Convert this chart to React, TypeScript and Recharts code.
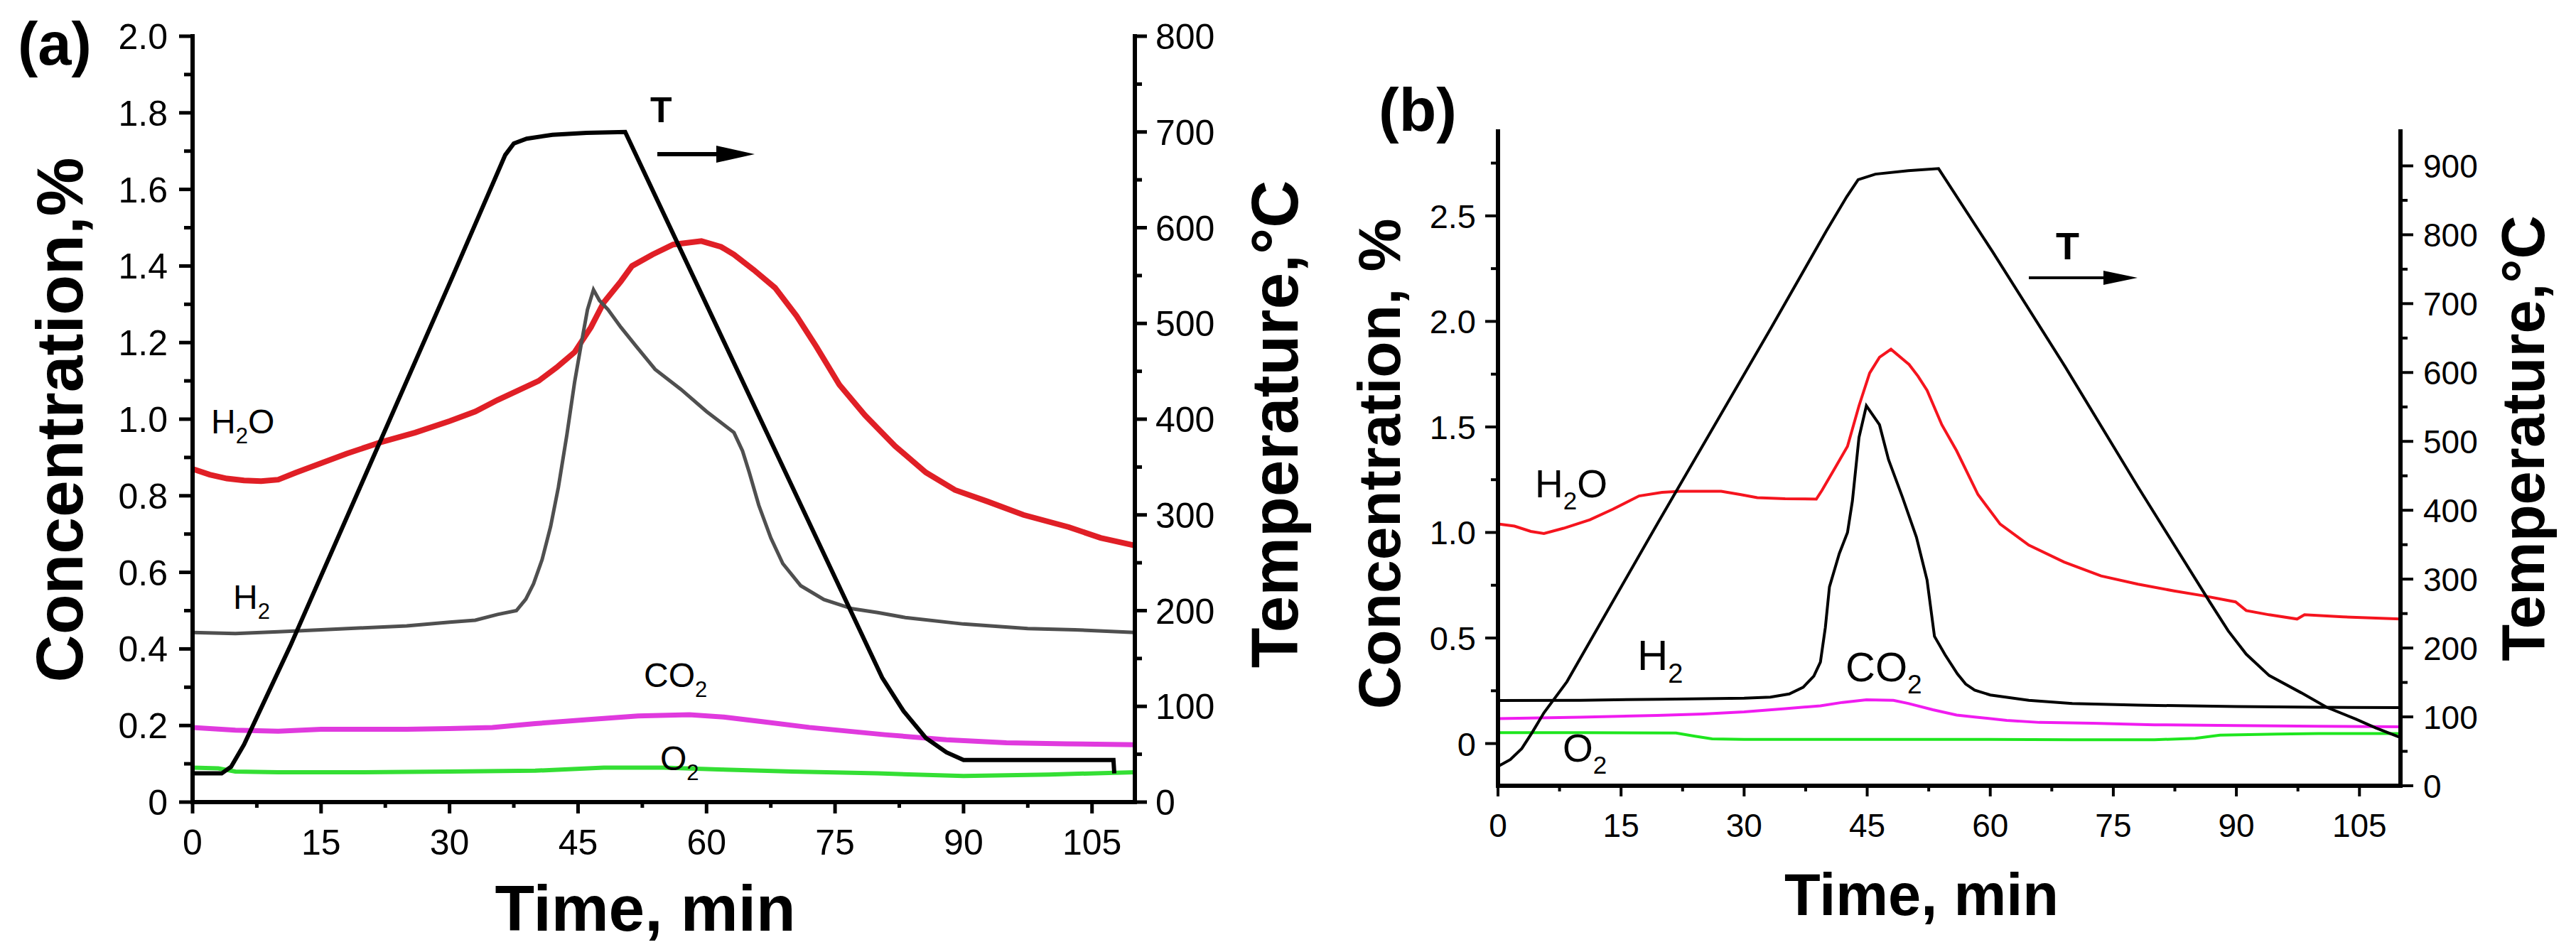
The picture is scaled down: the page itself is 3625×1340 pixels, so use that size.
import React from 'react';
import { LineChart, Line, XAxis, YAxis } from 'recharts';

const FONT = '"Liberation Sans", Arial, Helvetica, sans-serif';

// ---------- Panel (a) data ----------
const aH2O_t = [0, 2, 4, 6, 8, 10, 12, 15, 18, 22, 26, 30, 33, 35.6, 38, 40.4, 42.5, 44.6, 46.5, 48, 50, 51.3, 53.7, 56.1, 59.4, 61.7, 63.2, 65.5, 68, 70.5, 72.8, 75.5, 78.5, 82, 85.6, 89, 92.8, 97, 102.3, 106, 110];
const aH2O_v = [0.87, 0.855, 0.845, 0.84, 0.838, 0.842, 0.86, 0.885, 0.91, 0.94, 0.965, 0.995, 1.02, 1.05, 1.075, 1.1, 1.135, 1.175, 1.24, 1.305, 1.36, 1.4, 1.43, 1.456, 1.465, 1.45, 1.43, 1.39, 1.343, 1.27, 1.19, 1.09, 1.01, 0.93, 0.861, 0.815, 0.785, 0.75, 0.718, 0.69, 0.67];

const aH2_t = [0, 5, 10, 15, 20, 25, 30, 33, 35.6, 37.8, 38.9, 39.8, 40.8, 41.8, 42.7, 43.7, 44.6, 45.4, 46.1, 46.8, 47.5, 48.5, 50, 51.8, 54, 57, 60, 63.2, 64.2, 65, 66.1, 67.5, 68.9, 71, 73.7, 77, 80, 83.2, 90, 97.5, 103, 110];
const aH2_v = [0.443, 0.44, 0.445, 0.45, 0.455, 0.46, 0.47, 0.475, 0.49, 0.5, 0.53, 0.57, 0.633, 0.72, 0.822, 0.96, 1.097, 1.2, 1.286, 1.338, 1.31, 1.286, 1.24, 1.19, 1.13, 1.078, 1.02, 0.965, 0.917, 0.86, 0.775, 0.69, 0.623, 0.565, 0.529, 0.505, 0.495, 0.482, 0.465, 0.453, 0.45, 0.443];

const aCO2_t = [0, 5, 10, 15, 20, 25, 30, 35, 40, 46, 52, 58, 62, 66.5, 72, 80.8, 88, 95, 102, 110];
const aCO2_v = [0.195, 0.188, 0.185, 0.19, 0.19, 0.19, 0.192, 0.195, 0.205, 0.215, 0.225, 0.228, 0.222, 0.21, 0.195, 0.176, 0.163, 0.155, 0.152, 0.15];

const aO2_t = [0, 3, 5, 10, 20, 30, 40, 48, 55, 62, 70, 80, 90, 100, 110];
const aO2_v = [0.09, 0.088, 0.08, 0.078, 0.078, 0.08, 0.082, 0.09, 0.09, 0.085, 0.08, 0.075, 0.068, 0.072, 0.078];

const aT_t = [0, 3.4, 4.5, 6, 11.4, 20, 30.4, 36.5, 37.5, 39, 42, 46, 50.5, 80.5, 83, 85.6, 88, 90, 107.5, 107.6];
const aT_v = [30, 30, 37, 60, 163, 338, 550, 676, 688, 693, 697, 699, 700, 130, 95, 67, 52, 44, 44, 30];

// ---------- Panel (b) data ----------
const bH2O_t = [0, 2, 4, 5.6, 8, 11.2, 14, 17.2, 20, 22.2, 27.2, 29.5, 31.6, 35, 38.8, 39.5, 41, 42.6, 44, 45.3, 46.5, 47.9, 50.1, 51.2, 52.3, 54.1, 55.9, 58.5, 61.2, 64.7, 69, 73.5, 78, 82.4, 86, 89.9, 91.2, 94, 97.4, 98.3, 103, 110];
const bH2O_v = [1.04, 1.03, 1.005, 0.995, 1.02, 1.06, 1.11, 1.173, 1.19, 1.195, 1.195, 1.18, 1.165, 1.16, 1.158, 1.2, 1.3, 1.408, 1.6, 1.755, 1.83, 1.868, 1.796, 1.74, 1.673, 1.51, 1.387, 1.18, 1.04, 0.94, 0.86, 0.794, 0.755, 0.723, 0.7, 0.671, 0.63, 0.61, 0.59, 0.61, 0.6, 0.59];

const bH2_t = [0, 10, 20, 30, 33.2, 35.5, 37.2, 38.5, 39.3, 39.9, 40.4, 41.6, 42.6, 43.2, 44, 44.9, 46.5, 47.6, 49.3, 51, 52.3, 53.2, 54.5, 56, 57, 58.1, 60, 64.7, 70, 78, 90, 100, 110];
const bH2_v = [0.204, 0.205, 0.21, 0.215, 0.22, 0.235, 0.267, 0.32, 0.386, 0.55, 0.742, 0.9, 1.0, 1.15, 1.45, 1.6, 1.51, 1.345, 1.167, 0.978, 0.774, 0.508, 0.42, 0.33, 0.282, 0.253, 0.23, 0.205, 0.19, 0.182, 0.175, 0.172, 0.17];

const bCO2_t = [0, 10, 19.4, 25, 30, 35, 39.3, 42, 44.9, 48.2, 50, 53, 55.9, 58.1, 62, 66, 72.5, 80, 90, 100, 110];
const bCO2_v = [0.118, 0.125, 0.133, 0.14, 0.15, 0.165, 0.179, 0.195, 0.207, 0.205, 0.19, 0.16, 0.135, 0.126, 0.11, 0.1, 0.096, 0.089, 0.085, 0.082, 0.079];

const bO2_t = [0, 10, 21.7, 24, 26.1, 30, 40, 50, 60, 70, 80, 85, 88, 95, 100, 110];
const bO2_v = [0.052, 0.052, 0.05, 0.035, 0.022, 0.02, 0.02, 0.02, 0.02, 0.018, 0.018, 0.025, 0.04, 0.045, 0.047, 0.047];

const bT_t = [0, 1.5, 2.9, 4.2, 5.6, 8.4, 19.5, 33.3, 40, 42.5, 43.9, 46, 50, 53.7, 60.3, 69.1, 78, 86.8, 89, 91.2, 94, 97.9, 101, 104.5, 107, 110];
const bT_v = [28, 38, 54, 78, 106, 151, 382, 665, 805, 855, 880, 888, 893, 896, 775, 609, 434, 266, 225, 191, 160, 135, 114, 97, 84, 70];

// ---------- Ticks ----------
const timeTicks = [0, 7.5, 15, 22.5, 30, 37.5, 45, 52.5, 60, 67.5, 75, 82.5, 90, 97.5, 105];
const timeMajors = [0, 15, 30, 45, 60, 75, 90, 105];
const aConcTicks = [0, 0.1, 0.2, 0.3, 0.4, 0.5, 0.6, 0.7, 0.8, 0.9, 1.0, 1.1, 1.2, 1.3, 1.4, 1.5, 1.6, 1.7, 1.8, 1.9, 2.0];
const aConcMajors = [0, 0.2, 0.4, 0.6, 0.8, 1.0, 1.2, 1.4, 1.6, 1.8, 2.0];
const aTempTicks = [0, 50, 100, 150, 200, 250, 300, 350, 400, 450, 500, 550, 600, 650, 700, 750, 800];
const aTempMajors = [0, 100, 200, 300, 400, 500, 600, 700, 800];
const bConcTicks = [0, 0.25, 0.5, 0.75, 1.0, 1.25, 1.5, 1.75, 2.0, 2.25, 2.5, 2.75];
const bConcMajors = [0, 0.5, 1.0, 1.5, 2.0, 2.5];
const bTempTicks = [0, 50, 100, 150, 200, 250, 300, 350, 400, 450, 500, 550, 600, 650, 700, 750, 800, 850, 900];
const bTempMajors = [0, 100, 200, 300, 400, 500, 600, 700, 800, 900];

const zip = (ts: number[], vs: number[]) => ts.map((t, i) => ({ t, v: vs[i] }));

const fmtConc = (v: number) => (Math.abs(v) < 1e-9 ? '0' : v.toFixed(1));
const fmtInt = (v: number) => String(Math.round(v));

type TickOpts = {
  side: 'left' | 'right' | 'bottom';
  majors: number[];
  majorLen: number;
  minorLen: number;
  gap: number;
  fontSize: number;
  sw: number;
  fmt: (v: number) => string;
};

const makeTick = (o: TickOpts) => (props: any) => {
  const { x, y, payload } = props;
  const v = Number(payload.value);
  const major = o.majors.some((m) => Math.abs(m - v) < 1e-6);
  const len = major ? o.majorLen : o.minorLen;
  const txt = { fontFamily: FONT, fontSize: o.fontSize, fill: '#000' } as any;
  if (o.side === 'left') {
    return (
      <g>
        <line x1={x} y1={y} x2={x - len} y2={y} stroke="#000" strokeWidth={o.sw} />
        {major && (
          <text x={x - o.majorLen - o.gap} y={y} dy="0.36em" textAnchor="end" {...txt}>
            {o.fmt(v)}
          </text>
        )}
      </g>
    );
  }
  if (o.side === 'right') {
    return (
      <g>
        <line x1={x} y1={y} x2={x + len} y2={y} stroke="#000" strokeWidth={o.sw} />
        {major && (
          <text x={x + o.majorLen + o.gap} y={y} dy="0.36em" textAnchor="start" {...txt}>
            {o.fmt(v)}
          </text>
        )}
      </g>
    );
  }
  return (
    <g>
      <line x1={x} y1={y} x2={x} y2={y + len} stroke="#000" strokeWidth={o.sw} />
      {major && (
        <text x={x} y={y + o.majorLen + o.gap} dy="0.72em" textAnchor="middle" {...txt}>
          {o.fmt(v)}
        </text>
      )}
    </g>
  );
};

const tickA_left = makeTick({ side: 'left', majors: aConcMajors, majorLen: 19, minorLen: 12, gap: 16, fontSize: 50, sw: 5, fmt: fmtConc });
const tickA_right = makeTick({ side: 'right', majors: aTempMajors, majorLen: 17, minorLen: 10, gap: 12, fontSize: 50, sw: 5, fmt: fmtInt });
const tickA_bottom = makeTick({ side: 'bottom', majors: timeMajors, majorLen: 16, minorLen: 8, gap: 22, fontSize: 50, sw: 5, fmt: fmtInt });
const tickB_left = makeTick({ side: 'left', majors: bConcMajors, majorLen: 18, minorLen: 10, gap: 13, fontSize: 47, sw: 4, fmt: fmtConc });
const tickB_right = makeTick({ side: 'right', majors: bTempMajors, majorLen: 18, minorLen: 10, gap: 14, fontSize: 46, sw: 4, fmt: fmtInt });
const tickB_bottom = makeTick({ side: 'bottom', majors: timeMajors, majorLen: 15, minorLen: 8, gap: 24, fontSize: 46, sw: 4, fmt: fmtInt });

const axisLineStyle = { stroke: '#000', strokeWidth: 6, strokeLinecap: 'square' } as any;

const Sub = ({ x, y, size, parts }: { x: number; y: number; size: number; parts: Array<[string, boolean]> }) => {
  const shift = Math.round(size * 0.3);
  let cur = 0;
  return (
    <text x={x} y={y} fontFamily={FONT} fontSize={size} fill="#000">
      {parts.map(([s, sub], i) => {
        const dy = sub ? shift - cur : -cur;
        cur = sub ? shift : 0;
        return (
          <tspan key={i} dy={dy} fontSize={sub ? Math.round(size * 0.64) : size}>
            {s}
          </tspan>
        );
      })}
    </text>
  );
};

export default function App() {
  return (
    <div style={{ position: 'absolute', left: 0, top: 0, width: 3625, height: 1340, background: '#fff', overflow: 'hidden' }}>
      {/* Panel (a) */}
      <div style={{ position: 'absolute', left: 0, top: 0 }}>
        <LineChart width={1747} height={1340} margin={{ top: 51, right: 0, bottom: 61, left: 0 }}>
          <XAxis xAxisId="x" dataKey="t" type="number" domain={[0, 110]} ticks={timeTicks} interval={0} tickSize={0} tickMargin={0} tickLine={false} axisLine={axisLineStyle} tick={tickA_bottom} height={150} allowDataOverflow />
          <YAxis yAxisId="c" orientation="left" type="number" domain={[0, 2]} ticks={aConcTicks} interval={0} tickSize={0} tickMargin={0} tickLine={false} axisLine={axisLineStyle} tick={tickA_left} width={271} allowDataOverflow />
          <YAxis yAxisId="T" orientation="right" type="number" domain={[0, 800]} ticks={aTempTicks} interval={0} tickSize={0} tickMargin={0} tickLine={false} axisLine={axisLineStyle} tick={tickA_right} width={150} allowDataOverflow />
          <Line xAxisId="x" yAxisId="c" data={zip(aH2O_t, aH2O_v)} dataKey="v" type="linear" stroke="#e01f26" strokeWidth={8} dot={false} isAnimationActive={false} />
          <Line xAxisId="x" yAxisId="c" data={zip(aH2_t, aH2_v)} dataKey="v" type="linear" stroke="#4f4f4f" strokeWidth={5} dot={false} isAnimationActive={false} />
          <Line xAxisId="x" yAxisId="c" data={zip(aCO2_t, aCO2_v)} dataKey="v" type="linear" stroke="#e03ade" strokeWidth={7} dot={false} isAnimationActive={false} />
          <Line xAxisId="x" yAxisId="c" data={zip(aO2_t, aO2_v)} dataKey="v" type="linear" stroke="#34df34" strokeWidth={6} dot={false} isAnimationActive={false} />
          <Line xAxisId="x" yAxisId="T" data={zip(aT_t, aT_v)} dataKey="v" type="linear" stroke="#000" strokeWidth={6} dot={false} isAnimationActive={false} />
        </LineChart>
      </div>

      {/* Panel (b) */}
      <div style={{ position: 'absolute', left: 1900, top: 0 }}>
        <LineChart width={1628} height={1340} margin={{ top: 185, right: 0, bottom: 84, left: 0 }}>
          <XAxis xAxisId="x" dataKey="t" type="number" domain={[0, 110]} ticks={timeTicks} interval={0} tickSize={0} tickMargin={0} tickLine={false} axisLine={axisLineStyle} tick={tickB_bottom} height={150} allowDataOverflow />
          <YAxis yAxisId="c" orientation="left" type="number" domain={[-0.2, 2.9]} ticks={bConcTicks} interval={0} tickSize={0} tickMargin={0} tickLine={false} axisLine={axisLineStyle} tick={tickB_left} width={208} allowDataOverflow />
          <YAxis yAxisId="T" orientation="right" type="number" domain={[0, 950]} ticks={bTempTicks} interval={0} tickSize={0} tickMargin={0} tickLine={false} axisLine={axisLineStyle} tick={tickB_right} width={150} allowDataOverflow />
          <Line xAxisId="x" yAxisId="c" data={zip(bH2O_t, bH2O_v)} dataKey="v" type="linear" stroke="#f5141e" strokeWidth={4} dot={false} isAnimationActive={false} />
          <Line xAxisId="x" yAxisId="c" data={zip(bH2_t, bH2_v)} dataKey="v" type="linear" stroke="#000" strokeWidth={4} dot={false} isAnimationActive={false} />
          <Line xAxisId="x" yAxisId="c" data={zip(bCO2_t, bCO2_v)} dataKey="v" type="linear" stroke="#f01cf0" strokeWidth={4} dot={false} isAnimationActive={false} />
          <Line xAxisId="x" yAxisId="c" data={zip(bO2_t, bO2_v)} dataKey="v" type="linear" stroke="#1ee61e" strokeWidth={4} dot={false} isAnimationActive={false} />
          <Line xAxisId="x" yAxisId="T" data={zip(bT_t, bT_v)} dataKey="v" type="linear" stroke="#000" strokeWidth={4} dot={false} isAnimationActive={false} />
        </LineChart>
      </div>

      {/* Titles and annotations */}
      <svg width={3625} height={1340} style={{ position: 'absolute', left: 0, top: 0, pointerEvents: 'none' }}>
        <g fontFamily={FONT} fontWeight={700} fill="#000">
          <text x={25} y={91} fontSize={85}>(a)</text>
          <text x={1940} y={184} fontSize={86}>(b)</text>
          <text transform="translate(116,591) rotate(-90)" textAnchor="middle" fontSize={93}>Concentration,%</text>
          <text transform="translate(1826,597) rotate(-90)" textAnchor="middle" fontSize={93}>Temperature,°C</text>
          <text x={908} y={1310} textAnchor="middle" fontSize={91}>Time, min</text>
          <text transform="translate(1970,653) rotate(-90)" textAnchor="middle" fontSize={84}>Concentration, %</text>
          <text transform="translate(3580,617) rotate(-90)" textAnchor="middle" fontSize={85}>Temperature,°C</text>
          <text x={2704} y={1288} textAnchor="middle" fontSize={83}>Time, min</text>
          <text x={915} y={172} fontSize={50}>T</text>
          <text x={2893} y={365} fontSize={54}>T</text>
        </g>
        <line x1={925} y1={217} x2={1015} y2={217} stroke="#000" strokeWidth={6} />
        <polygon points="1008,205 1062,217 1008,229" fill="#000" />
        <line x1={2855} y1={391} x2={2965} y2={391} stroke="#000" strokeWidth={4} />
        <polygon points="2960,381 3008,391 2960,401" fill="#000" />
        <Sub x={297} y={610} size={48} parts={[['H', false], ['2', true], ['O', false]]} />
        <Sub x={328} y={857} size={48} parts={[['H', false], ['2', true]]} />
        <Sub x={906} y={967} size={48} parts={[['CO', false], ['2', true]]} />
        <Sub x={929} y={1084} size={48} parts={[['O', false], ['2', true]]} />
        <Sub x={2160} y={700} size={55} parts={[['H', false], ['2', true], ['O', false]]} />
        <Sub x={2304} y={943} size={60} parts={[['H', false], ['2', true]]} />
        <Sub x={2597} y={959} size={58} parts={[['CO', false], ['2', true]]} />
        <Sub x={2199} y={1072} size={55} parts={[['O', false], ['2', true]]} />
      </svg>
    </div>
  );
}
